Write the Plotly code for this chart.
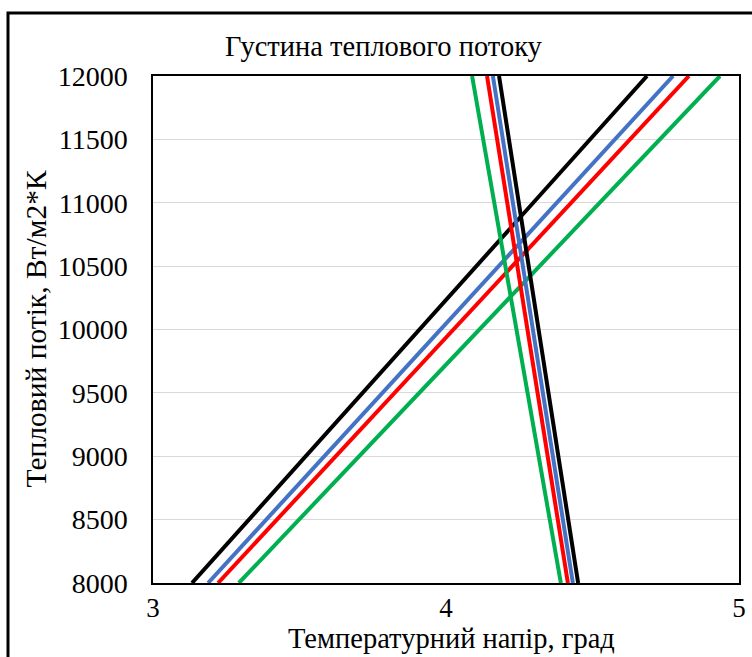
import plotly.graph_objects as go

# Data
heat_flux = [8000, 12000]

rise_black = [3.133, 4.686]
rise_blue = [3.188, 4.775]
rise_red = [3.222, 4.829]
rise_green = [3.293, 4.935]

fall_black = [4.451, 4.181]
fall_blue = [4.433, 4.160]
fall_red = [4.416, 4.140]
fall_green = [4.392, 4.089]

x_ticks = [3, 4, 5]
y_ticks = [8000, 8500, 9000, 9500, 10000, 10500, 11000, 11500, 12000]

BLACK = "#000000"
BLUE = "#4472C4"
RED = "#FF0000"
GREEN = "#00B050"

FONT = "Times New Roman, Liberation Serif, serif"
TICKF = dict(family=FONT, size=28, color="black")
XTICKF = dict(family=FONT, size=27, color="black")
TITLEF = dict(family=FONT, size=28.5, color="black")
YAXF = dict(family=FONT, size=29.5, color="black")
XAXF = dict(family=FONT, size=28.5, color="black")

W, H = 752, 657
L, R, T, B = 153, 13, 76, 74
ph = H - T - B
pw = W - L - R


def px_x(x):
    return (x - L) / pw


def px_y(y):
    return (H - B - y) / ph


fig = go.Figure()
series = [
    (rise_black, BLACK), (rise_blue, BLUE), (rise_red, RED), (rise_green, GREEN),
    (fall_green, GREEN), (fall_red, RED), (fall_blue, BLUE), (fall_black, BLACK),
]
for xs, c in series:
    fig.add_trace(go.Scatter(x=xs, y=heat_flux, mode="lines",
                             line=dict(color=c, width=4), showlegend=False,
                             hoverinfo="skip"))

fig.update_layout(
    width=W, height=H,
    margin=dict(l=L, r=R, t=T, b=B, autoexpand=False),
    paper_bgcolor="white", plot_bgcolor="white",
    font=TICKF,
    showlegend=False,
)
fig.update_xaxes(range=[3, 5], tickvals=x_ticks, ticktext=[str(v) for v in x_ticks],
                 showgrid=False, zeroline=False, showline=True, linecolor="black",
                 linewidth=1.5, mirror=True, ticks="", tickfont=XTICKF,
                 ticklabelstandoff=0, automargin=False)
fig.update_yaxes(range=[8000, 12000], tickvals=y_ticks,
                 ticktext=[str(v) for v in y_ticks],
                 showgrid=True, gridcolor="#d9d9d9", gridwidth=1,
                 zeroline=False, showline=True, linecolor="black",
                 linewidth=1.5, mirror=True, ticks="", tickfont=TICKF,
                 ticklabelstandoff=18, automargin=False)

fig.add_annotation(text="Густина теплового потоку", xref="paper", yref="paper",
                   x=px_x(383.5), y=px_y(47), xanchor="center", yanchor="middle",
                   showarrow=False, font=TITLEF)
fig.add_annotation(text="Тепловий потік, Вт/м2*К", xref="paper", yref="paper",
                   x=px_x(35), y=0.5, xanchor="center", yanchor="middle",
                   textangle=-90, showarrow=False, font=YAXF)
fig.add_annotation(text="Температурний напір, град", xref="paper", yref="paper",
                   x=px_x(451), y=px_y(638.5), xanchor="center", yanchor="middle",
                   showarrow=False, font=XAXF)

# outer chart frame
fig.add_shape(type="rect", xref="paper", yref="paper",
              x0=px_x(8), y0=-0.3, x1=1.2, y1=px_y(13),
              line=dict(color="black", width=3), fillcolor="rgba(0,0,0,0)",
              layer="above")

fig.write_html("out.html")
